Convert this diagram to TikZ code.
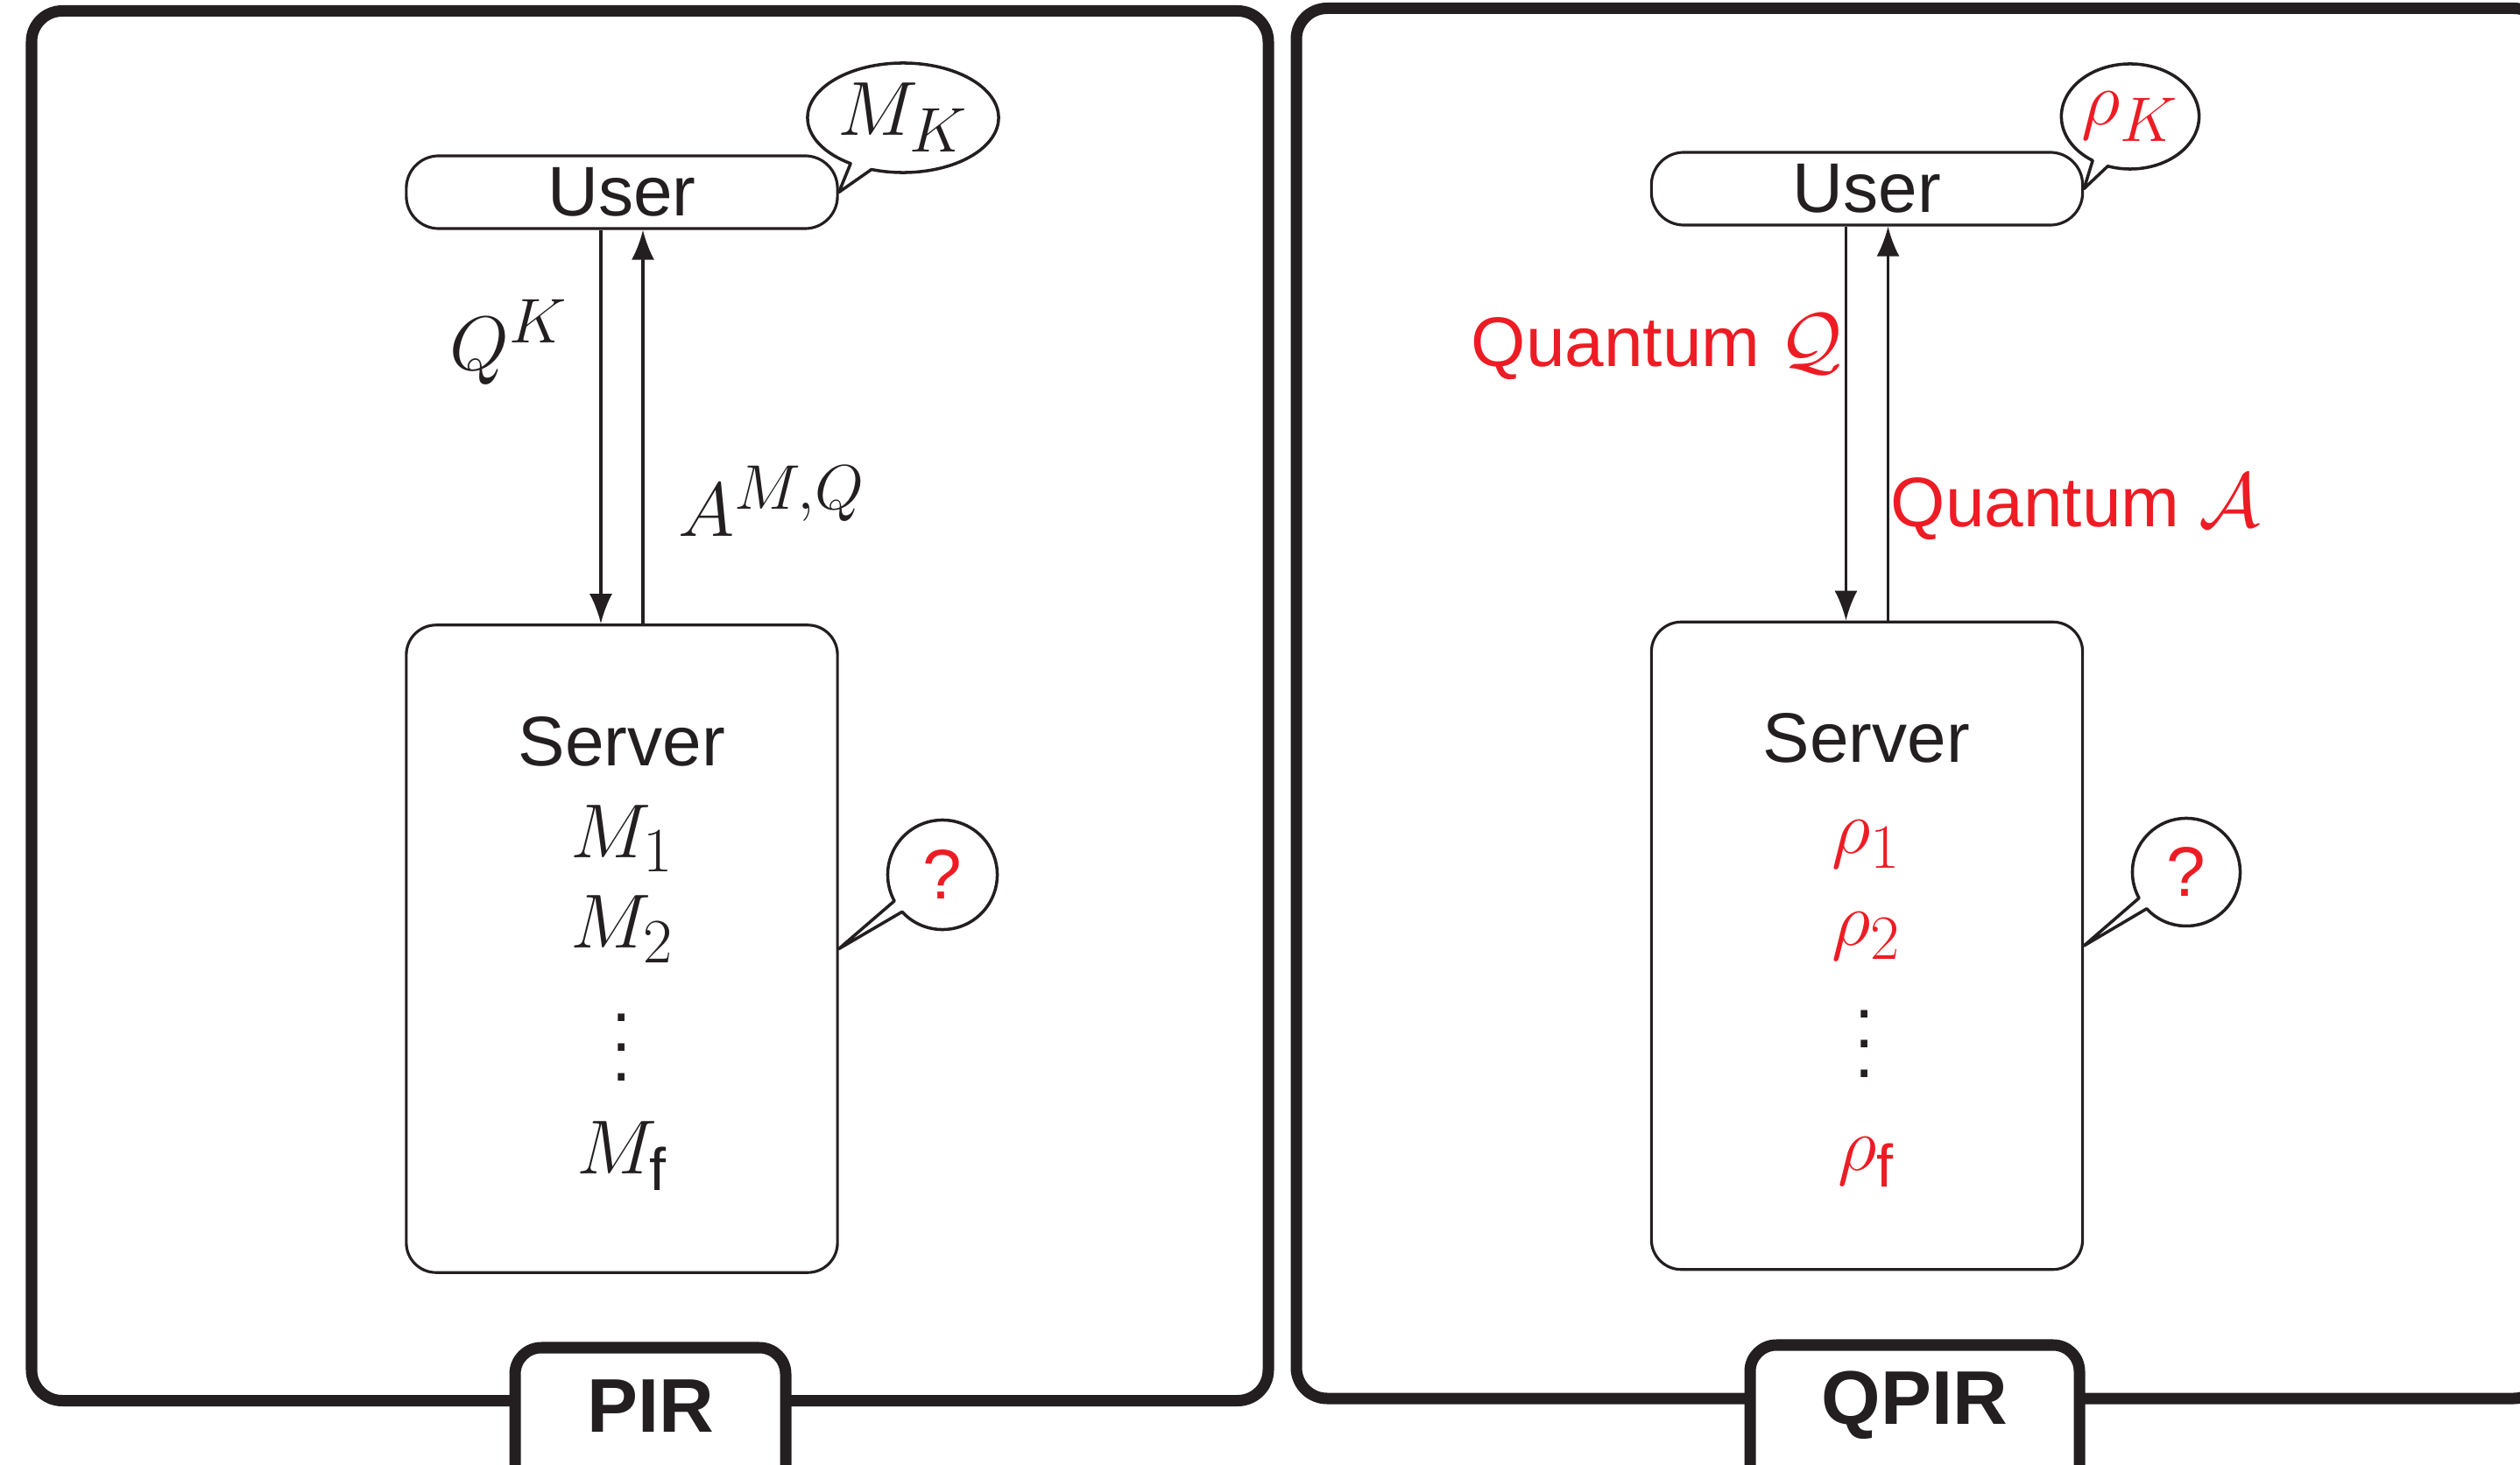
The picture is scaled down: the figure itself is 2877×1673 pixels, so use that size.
\RequirePackage{fix-cm}
\documentclass[tikz,border=0pt]{standalone}
\usepackage{amsmath}
\usepackage[no-math]{fontspec}
\setmainfont[Scale=0.95]{Liberation Sans}
\usetikzlibrary{arrows.meta,shapes.callouts,positioning}
\DeclareMathSizes{24}{24.88}{20.5}{14}
\definecolor{ink}{HTML}{231F20}
\definecolor{qred}{HTML}{ED1C24}
\begin{document}
\begin{tikzpicture}[x=0.01cm, y=-0.01cm, font=\fontsize{24}{29}\selectfont, line join=round, color=ink,
	frame/.style={line width=0.13cm, rounded corners=0.35cm},
	tab/.style={font=\fontsize{26}{30}\selectfont\bfseries, inner sep=0pt},
	party/.style={draw, line width=0.9pt, rounded corners=#1, minimum width=4.92cm, inner sep=0pt},
	bubble/.style={ellipse callout, draw, line width=1pt, inner sep=0pt, callout pointer arc=14},
	msg/.style={-{Latex[length=0.34cm,width=0.26cm]}, line width=0.9pt},
	item/.style={anchor=base, inner sep=0pt},
	dot/.style={inner sep=0pt},
	qtxt/.style={text=qred}]
	\useasboundingbox (0,0) rectangle (2877,1673);
	\clip (0,0) rectangle (2877,1673);
	% frames
	\draw[frame] (36,12.5) rectangle (1448,1599.5);
	\draw[frame] (1480,9.5) rectangle (2905,1597);
	\draw[frame, rounded corners=0.3cm, fill=white] (588,1760) |- (897,1539) -- (897,1760);
	\draw[frame, rounded corners=0.3cm, fill=white] (1998,1760) |- (2374,1536) -- (2374,1760);
	\node[tab] (pir) at (742.5,1606) {PIR};
	\node[tab] (qpir) at (2186,1605) {QPIR};
	% PIR
	\node[party=0.37cm, minimum height=0.83cm] (user) at (710,219.5) {User};
	\node[party=0.34cm, minimum height=7.39cm] (server) at (710,1083.5) {};
	\draw[msg] ([xshift=-0.24cm]user.south) -- ([xshift=-0.24cm]server.north);
	\draw[msg] ([xshift=0.24cm]server.north) -- ([xshift=0.24cm]user.south);
	\node[anchor=base east, inner sep=0pt] (qk) at (649,423) {$Q^K$};
	\node[anchor=base west, inner sep=0pt] (amq) at (774,613) {$A^{M,Q}$};
	\node[bubble, minimum width=2.18cm, minimum height=1.25cm, callout absolute pointer={(user.east)}] (mk) at (1031,134.5) {$M_K$};
	\node[bubble, minimum width=1.25cm, minimum height=1.25cm, callout absolute pointer={(server.east)}] (ask) at (1076,999) {\textcolor{qred}{?}};
	\foreach \y/\t [count=\i] in {875/Server, 979/$M_1$, 1083/$M_2$, 1340/$M_{\text{f}}$}
		\node[item] (lm\i) at (710,\y) {\t};
	\foreach \y [count=\i] in {1162,1196,1230}
		\node[dot] (ld\i) at (710,\y) {.};
	% QPIR
	\node[party=0.37cm, minimum height=0.83cm] (quser) at (2131.5,215.5) {User};
	\node[party=0.34cm, minimum height=7.39cm] (qserver) at (2131.5,1080) {};
	\draw[msg] ([xshift=-0.24cm]quser.south) -- ([xshift=-0.24cm]qserver.north);
	\draw[msg] ([xshift=0.24cm]qserver.north) -- ([xshift=0.24cm]quser.south);
	\node[qtxt, anchor=base east, inner sep=0pt] (qq) at (2104,419) {Quantum $\mathcal{Q}$};
	\node[qtxt, anchor=base west, inner sep=0pt] (qa) at (2158,602) {Quantum $\mathcal{A}$};
	\node[bubble, minimum width=1.56cm, minimum height=1.2cm, callout absolute pointer={(quser.east)}] (rk) at (2432,133) {\textcolor{qred}{$\rho_K$}};
	\node[bubble, minimum width=1.23cm, minimum height=1.23cm, callout absolute pointer={(qserver.east)}] (qask) at (2496,996) {\textcolor{qred}{?}};
	\node[item] (rm1) at (2131,871) {Server};
	\foreach \y/\t [count=\i from 2] in {975/$\rho_1$, 1079/$\rho_2$, 1336/$\rho_{\text{f}}$}
		\node[item, qtxt] (rm\i) at (2131,\y) {\t};
	\foreach \y [count=\i] in {1158,1192,1226}
		\node[dot] (rd\i) at (2129,\y) {.};
\end{tikzpicture}
\end{document}
